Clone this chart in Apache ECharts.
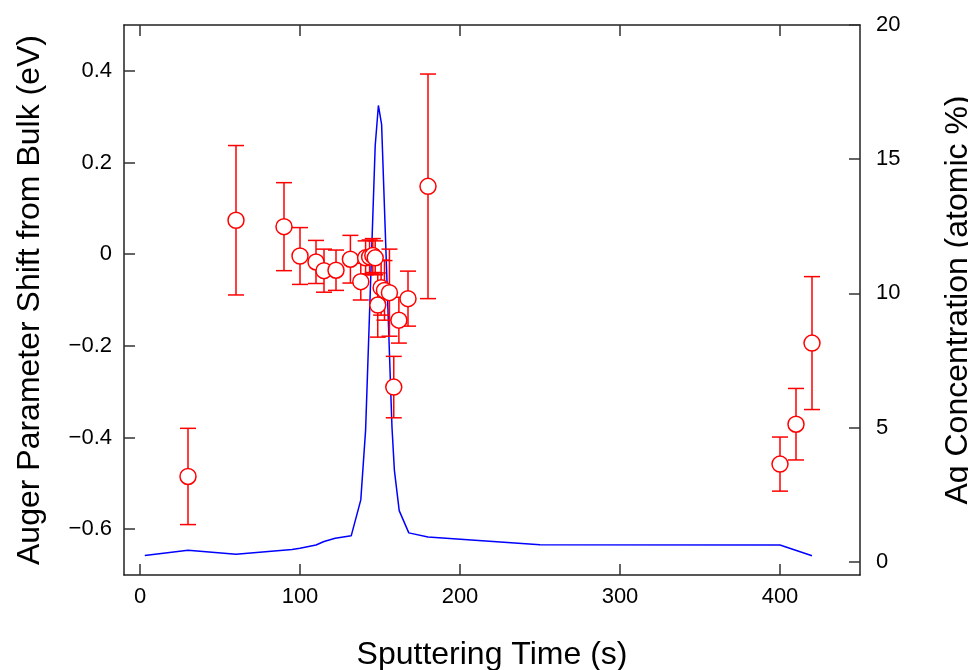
<!DOCTYPE html>
<html>
<head>
<meta charset="utf-8">
<script src="https://cdn.jsdelivr.net/npm/echarts@6/dist/echarts.min.js"></script>
<style>
html,body{margin:0;padding:0;background:#fff;}
#chart{width:968px;height:670px;}
</style>
</head>
<body>
<div id="chart"></div>
<script>
// Ag concentration (right axis, atomic %)
var agTime = [3, 30, 60, 95, 100, 110, 115, 122, 132, 138, 141, 147, 149, 151, 157.5, 159, 162, 168, 180, 250, 400, 420];
var agConc = [0.23, 0.42, 0.27, 0.45, 0.5, 0.62, 0.75, 0.87, 0.96, 2.3, 4.9, 15.5, 17.0, 16.3, 5.0, 3.4, 1.9, 1.07, 0.92, 0.63, 0.62, 0.22];

// Auger parameter shift (left axis, eV) with error
var shiftTime = [30, 60, 90, 100, 110, 115, 122.5, 131.5, 138, 141, 143.5, 145.5, 147, 148.6, 150.7, 152.8, 155.9, 158.6, 161.8, 167.5, 180, 400, 410, 420];
var shiftVal  = [-0.485, 0.074, 0.060, -0.004, -0.017, -0.036, -0.035, -0.011, -0.060, -0.008, -0.006, -0.003, -0.008, -0.111, -0.073, -0.079, -0.084, -0.290, -0.144, -0.097, 0.148, -0.458, -0.371, -0.194];
var shiftErr  = [0.105, 0.163, 0.096, 0.062, 0.047, 0.047, 0.044, 0.052, 0.040, 0.037, 0.037, 0.037, 0.037, 0.070, 0.060, 0.065, 0.095, 0.067, 0.050, 0.060, 0.245, 0.059, 0.078, 0.145];

var xTicks = [0, 100, 200, 300, 400];
var leftTicks = [-0.6, -0.4, -0.2, 0, 0.2, 0.4];
var rightTicks = [0, 5, 10, 15, 20];

var FONT = "'Liberation Sans', Arial, Helvetica, sans-serif";
var axisLine = {show: true, onZero: false, lineStyle: {color: '#222', width: 1.5}};
var tickStyle = {color: '#333', width: 1.5};

var lineData = agTime.map(function (t, i) { return [t, agConc[i]]; });
var ptData = shiftTime.map(function (t, i) { return [t, shiftVal[i]]; });
var errData = shiftTime.map(function (t, i) { return [t, shiftVal[i] - shiftErr[i], shiftVal[i] + shiftErr[i]]; });

var chart = echarts.init(document.getElementById('chart'));
chart.setOption({
  animation: false,
  backgroundColor: '#fff',
  textStyle: {fontFamily: FONT},
  grid: {left: 124, right: 108, top: 25, bottom: 95, containLabel: false, outerBoundsMode: 'none'},
  xAxis: [{
    type: 'value', min: -10, max: 450, position: 'bottom',
    axisLine: axisLine,
    axisTick: {show: true, inside: true, length: 11, lineStyle: tickStyle, customValues: xTicks},
    axisLabel: {fontSize: 22, color: '#000', margin: 11, fontFamily: FONT, customValues: xTicks},
    splitLine: {show: false},
    name: 'Sputtering Time (s)', nameLocation: 'middle', nameGap: 64,
    nameTextStyle: {fontSize: 32, color: '#000', fontFamily: FONT}
  }, {
    type: 'value', min: -10, max: 450, position: 'top',
    axisLine: axisLine,
    axisTick: {show: true, inside: true, length: 11, lineStyle: tickStyle, customValues: xTicks},
    axisLabel: {show: false, customValues: xTicks},
    splitLine: {show: false}
  }],
  yAxis: [{
    type: 'value', min: -0.7, max: 0.5, position: 'left',
    axisLine: axisLine,
    axisTick: {show: true, inside: true, length: 11, lineStyle: tickStyle, customValues: leftTicks},
    axisLabel: {fontSize: 22, color: '#000', margin: 12, fontFamily: FONT, customValues: leftTicks,
      formatter: function (v) { return String(v).replace('-', '\u2212'); }},
    splitLine: {show: false},
    name: 'Auger Parameter Shift from Bulk (eV)', nameLocation: 'middle', nameGap: 78, nameRotate: 90,
    nameTextStyle: {fontSize: 32, color: '#000', fontFamily: FONT}
  }, {
    type: 'value', min: -0.5, max: 20, position: 'right',
    axisLine: axisLine,
    axisTick: {show: true, inside: true, length: 11, lineStyle: tickStyle, customValues: rightTicks},
    axisLabel: {fontSize: 22, color: '#000', margin: 16, fontFamily: FONT, customValues: rightTicks},
    splitLine: {show: false},
    name: 'Ag Concentration (atomic %)', nameLocation: 'middle', nameGap: 82, nameRotate: 90,
    nameTextStyle: {fontSize: 32, color: '#000', fontFamily: FONT}
  }],
  series: [{
    type: 'line', xAxisIndex: 0, yAxisIndex: 1, data: lineData,
    showSymbol: false, symbol: 'none',
    lineStyle: {color: '#0000ff', width: 1.5}, z: 2
  }, {
    type: 'custom', xAxisIndex: 0, yAxisIndex: 0, data: errData, z: 3,
    renderItem: function (params, api) {
      var x = api.value(0);
      var lo = api.coord([x, api.value(1)]);
      var hi = api.coord([x, api.value(2)]);
      var hw = 8;
      var st = {stroke: '#ff0000', lineWidth: 1.5, fill: null};
      return {
        type: 'group',
        children: [
          {type: 'line', shape: {x1: hi[0], y1: hi[1], x2: lo[0], y2: lo[1]}, style: st},
          {type: 'line', shape: {x1: hi[0] - hw, y1: hi[1], x2: hi[0] + hw, y2: hi[1]}, style: st},
          {type: 'line', shape: {x1: lo[0] - hw, y1: lo[1], x2: lo[0] + hw, y2: lo[1]}, style: st}
        ]
      };
    }
  }, {
    type: 'scatter', xAxisIndex: 0, yAxisIndex: 0, data: ptData, z: 4,
    symbol: 'circle', symbolSize: 16,
    itemStyle: {color: '#ffffff', borderColor: '#ff0000', borderWidth: 1.5, opacity: 1}
  }]
});
</script>
</body>
</html>
